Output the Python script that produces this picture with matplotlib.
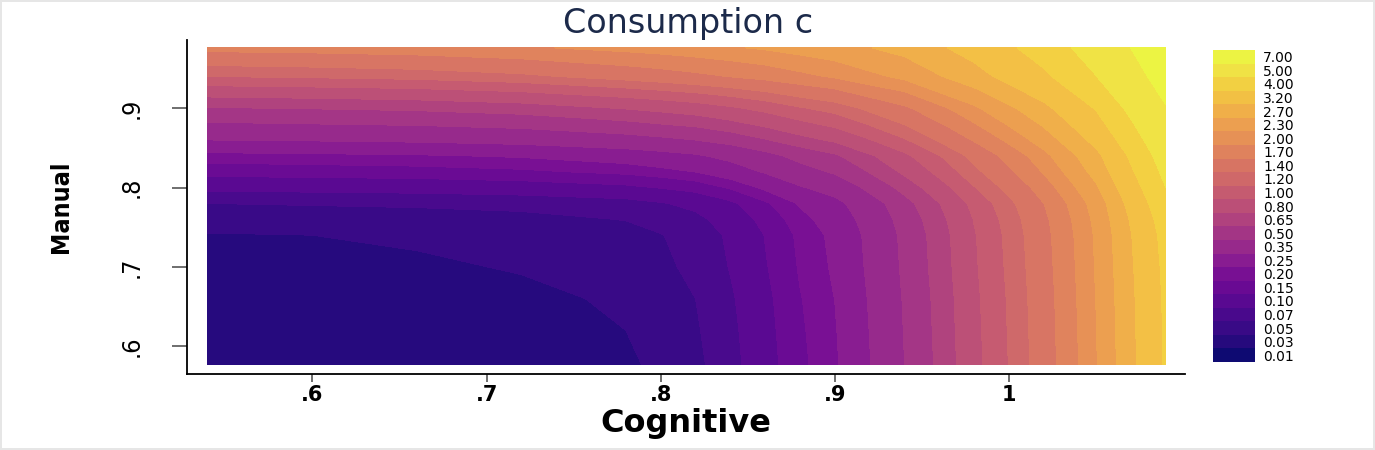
import numpy as np
import matplotlib
matplotlib.use('Agg')
import matplotlib.pyplot as plt
from matplotlib.colors import ListedColormap

# 軸の値 (Cognitive, Manual)
cognitive = [0.54, 0.60, 0.66, 0.72, 0.78, 0.80, 0.82, 0.84, 0.86, 0.88, 0.90,
             0.94, 0.98, 1.02, 1.05, 1.09]
manual = [0.577, 0.62, 0.66, 0.70, 0.74, 0.76, 0.78, 0.80, 0.82, 0.84, 0.86, 0.88,
          0.90, 0.94, 0.976]

# consumption c, one row per manual value
c_0577 = [0.038, 0.039, 0.040, 0.042, 0.047, 0.054, 0.064, 0.088, 0.130, 0.188, 0.240, 0.500, 0.940, 1.55, 2.28, 4.10]
c_0620 = [0.040, 0.041, 0.042, 0.044, 0.050, 0.057, 0.067, 0.091, 0.134, 0.192, 0.245, 0.507, 0.949, 1.56, 2.29, 4.12]
c_0660 = [0.042, 0.043, 0.044, 0.047, 0.052, 0.059, 0.070, 0.095, 0.138, 0.197, 0.251, 0.514, 0.957, 1.57, 2.31, 4.14]
c_0700 = [0.046, 0.047, 0.048, 0.051, 0.057, 0.065, 0.076, 0.102, 0.146, 0.206, 0.261, 0.527, 0.973, 1.59, 2.33, 4.20]
c_0740 = [0.049, 0.050, 0.052, 0.054, 0.061, 0.069, 0.080, 0.107, 0.152, 0.213, 0.268, 0.536, 0.985, 1.61, 2.35, 4.30]
c_0760 = [0.057, 0.058, 0.060, 0.063, 0.071, 0.079, 0.091, 0.119, 0.167, 0.230, 0.287, 0.560, 1.01, 1.64, 2.39, 4.45]
c_0780 = [0.070, 0.072, 0.074, 0.078, 0.087, 0.097, 0.111, 0.141, 0.192, 0.258, 0.318, 0.599, 1.06, 1.70, 2.46, 4.70]
c_0800 = [0.112, 0.114, 0.118, 0.125, 0.140, 0.153, 0.170, 0.207, 0.265, 0.340, 0.407, 0.705, 1.19, 1.85, 2.64, 5.00]
c_0820 = [0.170, 0.175, 0.180, 0.191, 0.214, 0.231, 0.252, 0.296, 0.362, 0.446, 0.520, 0.837, 1.34, 2.03, 2.86, 5.30]
c_0840 = [0.230, 0.236, 0.243, 0.258, 0.290, 0.311, 0.336, 0.385, 0.457, 0.548, 0.628, 0.959, 1.48, 2.20, 3.05, 5.60]
c_0860 = [0.350, 0.359, 0.371, 0.394, 0.443, 0.470, 0.501, 0.559, 0.640, 0.741, 0.832, 1.18, 1.73, 2.48, 3.39, 6.00]
c_0880 = [0.485, 0.498, 0.514, 0.547, 0.614, 0.648, 0.686, 0.751, 0.839, 0.949, 1.05, 1.41, 1.98, 2.76, 3.72, 6.40]
c_0900 = [0.640, 0.657, 0.678, 0.722, 0.811, 0.852, 0.897, 0.969, 1.06, 1.18, 1.28, 1.65, 2.24, 3.06, 4.06, 6.90]
c_0940 = [1.20, 1.23, 1.27, 1.35, 1.50, 1.56, 1.63, 1.71, 1.80, 1.92, 2.04, 2.39, 2.99, 3.85, 4.98, 7.90]
c_0976 = [1.79, 1.82, 1.87, 1.96, 2.09, 2.14, 2.20, 2.27, 2.34, 2.44, 2.54, 2.85, 3.44, 4.40, 5.60, 8.80]

# colour cuts shown in the legend
cuts = [0.01, 0.03, 0.05, 0.07, 0.10, 0.15, 0.20, 0.25, 0.35, 0.50, 0.65, 0.80,
        1.00, 1.20, 1.40, 1.70, 2.00, 2.30, 2.70, 3.20, 4.00, 5.00, 7.00]
cut_top = 12.0

Z = np.array([c_0577, c_0620, c_0660, c_0700, c_0740, c_0760, c_0780, c_0800,
              c_0820, c_0840, c_0860, c_0880, c_0900, c_0940, c_0976])
X, Y = np.meshgrid(cognitive, manual)

# plasma, a little muted like the original
n_bands = len(cuts)
band_colors = []
for i in range(n_bands):
    r, g, b, _ = plt.cm.plasma(i / (n_bands - 1))
    lum = 0.299 * r + 0.587 * g + 0.114 * b
    band_colors.append((0.82 * r + 0.18 * lum, 0.82 * g + 0.18 * lum, 0.82 * b + 0.18 * lum))
bounds = cuts + [cut_top]

narrow = dict(family='DejaVu Sans', fontstretch='condensed')

fig = plt.figure(figsize=(13.75, 4.5), dpi=100)
fig.patch.set_facecolor('white')
fig.patch.set_edgecolor('#e6e6e6')
fig.patch.set_linewidth(1.5)

ax = fig.add_axes([187 / 1375, 76 / 450, 998 / 1375, 334 / 450])
# log 空間で等高線を描く
ax.contourf(X, Y, np.log(Z), levels=np.log(bounds), colors=band_colors)

ax.set_xlim(0.528, 1.101)
ax.set_ylim(0.565, 0.986)

ax.spines['top'].set_visible(False)
ax.spines['right'].set_visible(False)
ax.spines['left'].set_linewidth(1.3)
ax.spines['bottom'].set_linewidth(1.3)

ax.set_xticks([0.6, 0.7, 0.8, 0.9, 1.0])
ax.set_xticklabels(['.6', '.7', '.8', '.9', '1'], fontsize=15, fontweight='bold',
                   family='DejaVu Sans')
ax.set_yticks([0.6, 0.7, 0.8, 0.9])
ax.set_yticklabels(['.6', '.7', '.8', '.9'], fontsize=18, rotation=90, va='center', **narrow)
ax.tick_params(axis='x', length=6, width=1.2, color='#555555', pad=2)
ax.tick_params(axis='y', length=11, width=1.2, color='#555555', pad=20)

ax.set_xlabel('Cognitive', fontsize=23, fontweight='bold', family='DejaVu Sans', labelpad=2)
ax.set_ylabel('Manual', fontsize=18, fontweight='bold', labelpad=34, **narrow)

fig.text(688 / 1375, 1 - 23 / 450, 'Consumption c', ha='center', va='center',
         fontsize=24, color='#1c2a4a', family='DejaVu Sans')

# カラーバー
cax = fig.add_axes([1213 / 1375, 88 / 450, 42 / 1375, 312 / 450])
cax.imshow(np.arange(n_bands).reshape(-1, 1), cmap=ListedColormap(band_colors),
           origin='lower', aspect='auto', extent=[0, 1, 0, n_bands],
           vmin=-0.5, vmax=n_bands - 0.5)
cax.set_xticks([])
cax.yaxis.tick_right()
cax.set_yticks(np.arange(n_bands) + 0.5)
cax.set_yticklabels([f'{v:.2f}' for v in cuts], fontsize=10, family='DejaVu Sans')
cax.tick_params(axis='y', length=0, pad=6)
for s in cax.spines.values():
    s.set_visible(False)

plt.savefig('out.png', dpi=100)
